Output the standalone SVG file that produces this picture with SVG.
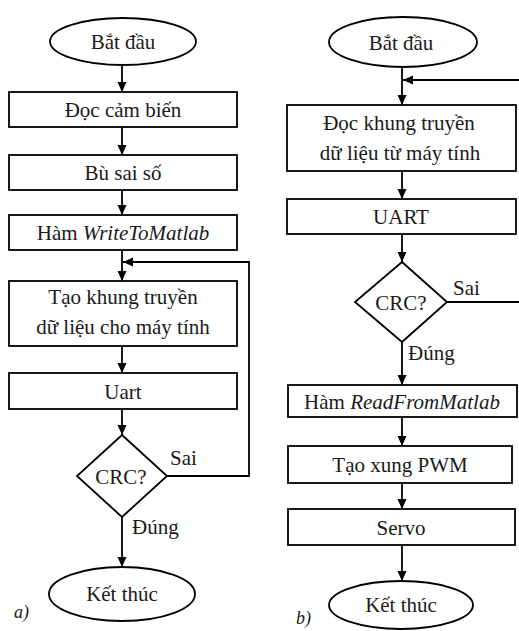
<svg xmlns="http://www.w3.org/2000/svg" width="519" height="631" viewBox="0 0 519 631">
<style>
.s{fill:#fff;stroke:#000;stroke-width:1.8}
text{font-family:'Tinos','Liberation Serif','Noto Serif','DejaVu Serif',serif;font-size:21px;fill:#1a1a1a}
.t{text-anchor:middle}
.c{fill:none;stroke:#000;stroke-width:1.8}
.i{font-style:italic}
.sm{font-size:18px}
</style>
<defs>
<marker id="ah" markerUnits="userSpaceOnUse" markerWidth="10" markerHeight="10" refX="10" refY="5" orient="auto">
<path d="M0,0.5 L10,5 L0,9.5 Z" fill="#000"/>
</marker>
</defs>
<rect width="519" height="631" fill="#fff"/>
<g id="connectors">
<line class="c" x1="122" y1="65" x2="122" y2="92" marker-end="url(#ah)"/>
<line class="c" x1="122" y1="127" x2="122" y2="155" marker-end="url(#ah)"/>
<line class="c" x1="122" y1="190" x2="122" y2="215" marker-end="url(#ah)"/>
<line class="c" x1="122" y1="250" x2="122" y2="281" marker-end="url(#ah)"/>
<polyline class="c" points="167,476 249,476 249,262 123,262" marker-end="url(#ah)"/>
<line class="c" x1="122" y1="346" x2="122" y2="373" marker-end="url(#ah)"/>
<line class="c" x1="122" y1="409" x2="122" y2="435" marker-end="url(#ah)"/>
<line class="c" x1="122" y1="517" x2="122" y2="567" marker-end="url(#ah)"/>
<line class="c" x1="402" y1="67" x2="402" y2="105" marker-end="url(#ah)"/>
<line class="c" x1="519" y1="80" x2="403" y2="80" marker-end="url(#ah)"/>
<line class="c" x1="402" y1="171" x2="402" y2="199" marker-end="url(#ah)"/>
<line class="c" x1="402" y1="234" x2="402" y2="262" marker-end="url(#ah)"/>
<line class="c" x1="447" y1="302" x2="519" y2="302"/>
<line class="c" x1="402" y1="342" x2="402" y2="385" marker-end="url(#ah)"/>
<line class="c" x1="402" y1="417" x2="402" y2="446" marker-end="url(#ah)"/>
<line class="c" x1="402" y1="483" x2="402" y2="509" marker-end="url(#ah)"/>
<line class="c" x1="402" y1="545" x2="402" y2="581" marker-end="url(#ah)"/>
<text x="170" y="465">Sai</text>
<text x="132" y="534">Đúng</text>
<text x="453" y="295">Sai</text>
<text x="408" y="360">Đúng</text>
</g>
<g id="a-start"><ellipse class="s" cx="123" cy="41.5" rx="73" ry="23.5"/><text class="t" x="123" y="49">Bắt đầu</text></g>
<g id="a-read"><rect class="s" x="9" y="92" width="228" height="35"/><text class="t" x="123" y="117">Đọc cảm biến</text></g>
<g id="a-comp"><rect class="s" x="9" y="155" width="228" height="35"/><text class="t" x="123" y="180">Bù sai số</text></g>
<g id="a-write"><rect class="s" x="9" y="215" width="228" height="35"/><text class="t" x="123" y="240">Hàm <tspan class="i">WriteToMatlab</tspan></text></g>
<g id="a-frame"><rect class="s" x="9" y="281" width="228" height="65"/><text class="t" x="123" y="304">Tạo khung truyền</text><text class="t" x="123" y="334">dữ liệu cho máy tính</text></g>
<g id="a-uart"><rect class="s" x="9" y="373" width="228" height="36"/><text class="t" x="123" y="399">Uart</text></g>
<g id="a-crc"><polygon class="s" points="122,435 167,476 122,517 77,476"/><text class="t" x="121" y="484">CRC?</text></g>
<g id="a-end"><ellipse class="s" cx="122" cy="594" rx="73" ry="27"/><text class="t" x="122" y="601">Kết thúc</text></g>
<text class="i sm" x="14" y="618">a)</text>
<g id="b-start"><ellipse class="s" cx="403" cy="42" rx="74" ry="25"/><text class="t" x="401" y="50">Bắt đầu</text></g>
<g id="b-read"><rect class="s" x="287" y="105" width="229" height="66"/><text class="t" x="399" y="130">Đọc khung truyền</text><text class="t" x="400" y="160">dữ liệu từ máy tính</text></g>
<g id="b-uart"><rect class="s" x="287" y="199" width="229" height="35"/><text class="t" x="401" y="224">UART</text></g>
<g id="b-crc"><polygon class="s" points="402,262 447,302 402,342 355,302"/><text class="t" x="401" y="310">CRC?</text></g>
<g id="b-readfm"><rect class="s" x="288" y="385" width="229" height="32"/><text class="t" x="402" y="409">Hàm <tspan class="i">ReadFromMatlab</tspan></text></g>
<g id="b-pwm"><rect class="s" x="288" y="446" width="224" height="37"/><text class="t" x="400" y="472">Tạo xung PWM</text></g>
<g id="b-servo"><rect class="s" x="288" y="509" width="227" height="36"/><text class="t" x="401" y="535">Servo</text></g>
<g id="b-end"><ellipse class="s" cx="401" cy="605" rx="72" ry="24"/><text class="t" x="401" y="612">Kết thúc</text></g>
<text class="i sm" x="296" y="624">b)</text>
</svg>
